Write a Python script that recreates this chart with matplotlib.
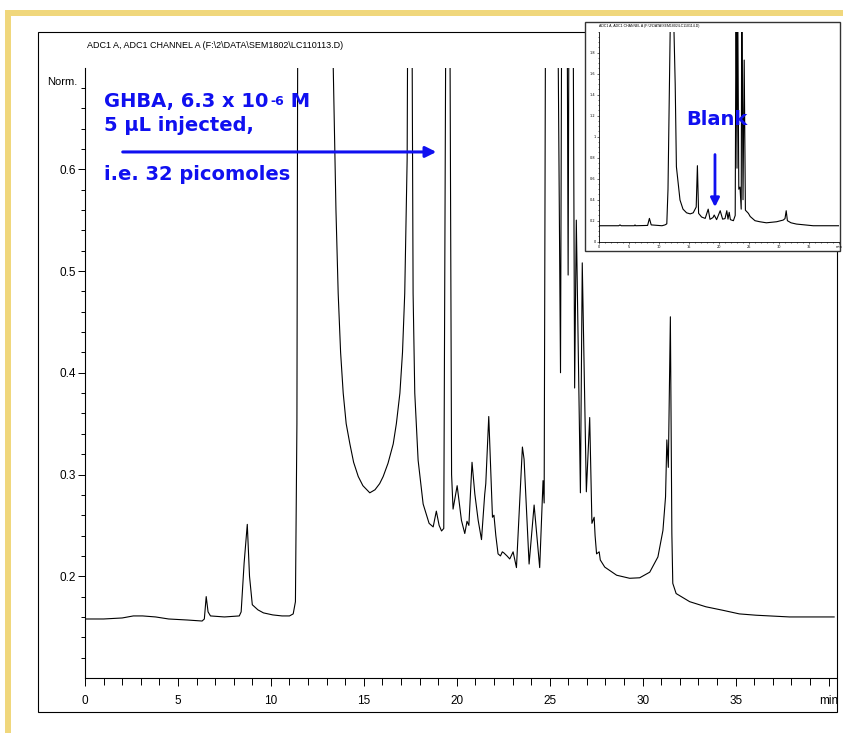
import matplotlib
matplotlib.use('Agg')
import numpy as np
import matplotlib.pyplot as plt
from matplotlib.patches import Rectangle
from matplotlib.ticker import FixedLocator, MultipleLocator

# chromatogram of the sample (time in min, signal in Norm.)
main_t = [0.0, 1.0, 2.0, 2.6, 3.1, 3.8, 4.5, 5.5, 6.3, 6.42, 6.52, 6.62, 6.75, 7.5,
          8.3, 8.40, 8.56, 8.73, 8.85, 9.0, 9.3, 9.6, 10.1, 10.6, 11.0, 11.2, 11.32,
          11.40, 11.45, 12.3, 13.25, 13.44, 13.5, 13.62, 13.75, 13.89, 14.05, 14.25,
          14.45, 14.7, 14.95, 15.32, 15.6, 15.85, 16.04, 16.3, 16.58, 16.75, 16.94,
          17.08, 17.2, 17.33, 17.37, 17.47, 17.58, 17.65, 17.74, 17.92, 18.19, 18.51,
          18.73, 18.9, 19.05, 19.18, 19.30, 19.42, 19.52, 19.62, 19.72, 19.8, 20.02,
          20.25, 20.43, 20.55, 20.65, 20.82, 20.97, 21.15, 21.33, 21.5, 21.56, 21.72,
          21.92, 22.0, 22.1, 22.22, 22.35, 22.45, 22.53, 22.7, 22.85, 23.03, 23.21,
          23.53, 23.62, 23.89, 24.16, 24.46, 24.64, 24.70, 24.78, 25.1, 25.42, 25.58,
          25.65, 25.80, 25.93, 25.99, 26.04, 26.14, 26.25, 26.34, 26.43, 26.65, 26.75,
          26.97, 27.15, 27.27, 27.39, 27.44, 27.52, 27.66, 27.72, 27.96, 28.6, 29.3,
          29.84, 30.38, 30.82, 31.09, 31.23, 31.30, 31.38, 31.49, 31.57, 31.62, 31.8,
          32.53, 33.4, 34.3, 35.2, 36.1, 37.9, 40.3]
main_v = [0.158, 0.158, 0.159, 0.161, 0.161, 0.160, 0.158, 0.157, 0.156, 0.158, 0.180,
          0.165, 0.161, 0.160, 0.161, 0.165, 0.213, 0.251, 0.200, 0.172, 0.167, 0.164,
          0.162, 0.161, 0.161, 0.163, 0.175, 0.35, 0.80, 2.5, 0.80, 0.617, 0.56, 0.478,
          0.42, 0.380, 0.35, 0.330, 0.312, 0.298, 0.289, 0.282, 0.285, 0.291, 0.298,
          0.311, 0.330, 0.35, 0.380, 0.42, 0.478, 0.61, 0.80, 1.2, 0.80, 0.478, 0.380,
          0.314, 0.271, 0.252, 0.2485, 0.264, 0.250, 0.2445, 0.247, 0.80, 1.5, 0.80,
          0.30, 0.266, 0.289, 0.255, 0.242, 0.254, 0.250, 0.312, 0.281, 0.255, 0.236,
          0.280, 0.291, 0.357, 0.258, 0.260, 0.240, 0.222, 0.220, 0.224, 0.223, 0.220,
          0.217, 0.224, 0.2085, 0.327, 0.315, 0.212, 0.270, 0.2085, 0.294, 0.272, 0.80,
          2.5, 0.80, 0.400, 0.80, 2.0, 0.80, 0.496, 0.80, 2.0, 0.80, 0.385, 0.55, 0.282,
          0.508, 0.283, 0.356, 0.252, 0.258, 0.240, 0.222, 0.224, 0.216, 0.209, 0.201,
          0.198, 0.1985, 0.204, 0.219, 0.245, 0.278, 0.334, 0.307, 0.455, 0.242, 0.193,
          0.183, 0.175, 0.170, 0.1666, 0.163, 0.1617, 0.160, 0.160]

# blank run shown in the inset
blank_t = [0.0, 3.3, 3.5, 3.7, 5.9, 6.0, 6.1, 8.1, 8.4, 8.7, 10.5, 11.0, 11.3, 11.5,
           12.1, 12.7, 12.9, 13.5, 14.0, 14.6, 15.2, 15.7, 16.2, 16.4, 16.6, 17.1, 17.7,
           18.2, 18.5, 19.0, 19.2, 19.6, 20.2, 20.6, 21.0, 21.3, 21.5, 21.7, 21.9, 22.4,
           22.7, 22.85, 23.0, 23.1, 23.3, 23.5, 23.7, 23.8, 24.0, 24.2, 24.4, 24.9, 25.2,
           26.0, 26.8, 27.9, 29.6, 30.7, 31.0, 31.2, 31.4, 32.0, 32.9, 35.7, 40.0]
blank_v = [0.152, 0.152, 0.16, 0.152, 0.152, 0.16, 0.152, 0.155, 0.222, 0.16, 0.152,
           0.16, 0.17, 0.5, 3.0, 1.5, 0.714, 0.397, 0.31, 0.275, 0.265, 0.275, 0.33,
           0.724, 0.27, 0.235, 0.222, 0.31, 0.213, 0.23, 0.254, 0.21, 0.295, 0.215, 0.22,
           0.295, 0.215, 0.28, 0.21, 0.2, 0.25, 2.5, 0.7, 2.5, 0.5, 0.52, 0.31, 2.5, 0.4,
           1.73, 0.3, 0.27, 0.24, 0.2, 0.19, 0.18, 0.19, 0.206, 0.22, 0.295, 0.2, 0.18,
           0.168, 0.152, 0.152]

x_ticks = [0, 5, 10, 15, 20, 25, 30, 35, 40]
x_labels = ['0', '5', '10', '15', '20', '25', '30', '35', 'min']
y_ticks = [0.2, 0.3, 0.4, 0.5, 0.6]
y_labels = ['0.2', '0.3', '0.4', '0.5', '0.6']
ins_y_ticks = [0, 0.2, 0.4, 0.6, 0.8, 1.0, 1.2, 1.4, 1.6, 1.8]
ins_y_labels = ['0', '0.2', '0.4', '0.6', '0.8', '1', '1.2', '1.4', '1.6', '1.8']

BLUE = '#1010F0'
YELLOW = '#F0D77C'
narrow = ['Liberation Sans', 'DejaVu Sans']
bold_font = ['DejaVu Sans']

W, H = 843, 733
fig = plt.figure(figsize=(W / 100, H / 100), dpi=100)


def fx(px):
    return px / W


def fy(py):
    return 1 - py / H


# yellow slide frame (top and left bars)
fig.add_artist(Rectangle((fx(5), fy(16)), 1 - fx(5), 6 / H, transform=fig.transFigure,
                         color=YELLOW, lw=0, zorder=1))
fig.add_artist(Rectangle((fx(5), 0), 6 / W, fy(10), transform=fig.transFigure,
                         color=YELLOW, lw=0, zorder=1))
# black box round the chromatogram
fig.add_artist(Rectangle((fx(38), fy(711.7)), (837 - 38) / W, (711.7 - 31.7) / H,
                         transform=fig.transFigure, fill=False, ec='black', lw=0.8,
                         zorder=1))

# main chromatogram
ax = fig.add_axes([fx(85), fy(678), (836 - 85) / W, (678 - 67.5) / H])
ax.plot(main_t, main_v, color='black', lw=0.8)
ax.set_xlim(0, 40.4)
ax.set_ylim(0.1, 0.7)
for s in ['top', 'right']:
    ax.spines[s].set_visible(False)
for s in ['left', 'bottom']:
    ax.spines[s].set_linewidth(0.8)
ax.set_xticks(x_ticks)
ax.set_xticklabels(x_labels, family=narrow)
ax.xaxis.set_minor_locator(MultipleLocator(1))
ax.set_yticks(y_ticks)
ax.set_yticklabels(y_labels, family=narrow)
ax.yaxis.set_minor_locator(FixedLocator(np.arange(0.12, 0.70, 0.02)))
ax.tick_params(axis='x', which='major', length=5.5, width=0.7, pad=7, labelsize=8.5)
ax.tick_params(axis='x', which='minor', length=5, width=0.7)
ax.tick_params(axis='y', which='major', length=5, width=0.7, pad=1.5, labelsize=8.5)
ax.tick_params(axis='y', which='minor', length=3, width=0.7)

fig.text(fx(87), fy(45), r'ADC1 A, ADC1 CHANNEL A (F:\2\DATA\SEM1802\LC110113.D)',
         family=narrow, fontsize=6.5, ha='left', va='center')
fig.text(fx(77), fy(82), 'Norm.', family=narrow, fontsize=8, ha='right', va='center')

# blue annotation
t1 = ax.text(1.04, 0.661, 'GHBA, 6.3 x 10', color=BLUE, fontsize=14, fontweight='bold',
             family=bold_font, ha='left', va='baseline')
sup = ax.annotate('-6', xy=(1, 1), xycoords=t1, xytext=(1, -2), textcoords='offset points',
                  color=BLUE, fontsize=9, fontweight='bold', family=bold_font,
                  ha='left', va='top')
ax.annotate(' M', xy=(1, 0), xycoords=(sup, t1), color=BLUE, fontsize=14,
            fontweight='bold', family=bold_font, ha='left', va='bottom')
ax.text(1.04, 0.638, '5 µL injected,', color=BLUE, fontsize=14, fontweight='bold',
        family=bold_font, ha='left', va='baseline')
ax.text(1.04, 0.589, 'i.e. 32 picomoles', color=BLUE, fontsize=14, fontweight='bold',
        family=bold_font, ha='left', va='baseline')
ax.annotate('', xy=(18.9, 0.617), xytext=(2.03, 0.617),
            arrowprops=dict(arrowstyle='-|>', color=BLUE, lw=2.2, mutation_scale=16,
                            shrinkA=0, shrinkB=0))

# inset with the blank run
fig.add_artist(Rectangle((fx(585), fy(250.7)), (840 - 585) / W, (250.7 - 21.7) / H,
                         transform=fig.transFigure, fc='white', ec='#333333', lw=1,
                         zorder=2))
ins = fig.add_axes([fx(599), fy(241.7), (839 - 599) / W, (241.7 - 31.7) / H])
ins.set_zorder(3)
ins.plot(blank_t, blank_v, color='black', lw=0.8)
ins.set_xlim(0, 40)
ins.set_ylim(0, 2.0)
for s in ['top', 'right']:
    ins.spines[s].set_visible(False)
for s in ['left', 'bottom']:
    ins.spines[s].set_linewidth(0.6)
ins.set_xticks(x_ticks)
ins.set_xticklabels(x_labels)
ins.xaxis.set_minor_locator(MultipleLocator(1))
ins.set_yticks(ins_y_ticks)
ins.set_yticklabels(ins_y_labels)
ins.yaxis.set_minor_locator(MultipleLocator(0.05))
ins.tick_params(which='both', labelsize=2.5, length=1.5, width=0.4, pad=1)
ins.tick_params(which='minor', length=1)
ins.text(0.0, 1.02, r'ADC1 A, ADC1 CHANNEL A (F:\2\DATA\SEM1802\LC110114.D)',
         transform=ins.transAxes, fontsize=2.5, family=narrow, ha='left', va='bottom')
ins.text(19.6, 1.16, 'Blank', color=BLUE, fontsize=14, fontweight='bold',
         family=bold_font, ha='center', va='center')
ins.annotate('', xy=(19.33, 0.33), xytext=(19.33, 0.83),
             arrowprops=dict(arrowstyle='-|>', color=BLUE, lw=2, mutation_scale=13,
                             shrinkA=0, shrinkB=0))

fig.savefig('out.png', dpi=100)
